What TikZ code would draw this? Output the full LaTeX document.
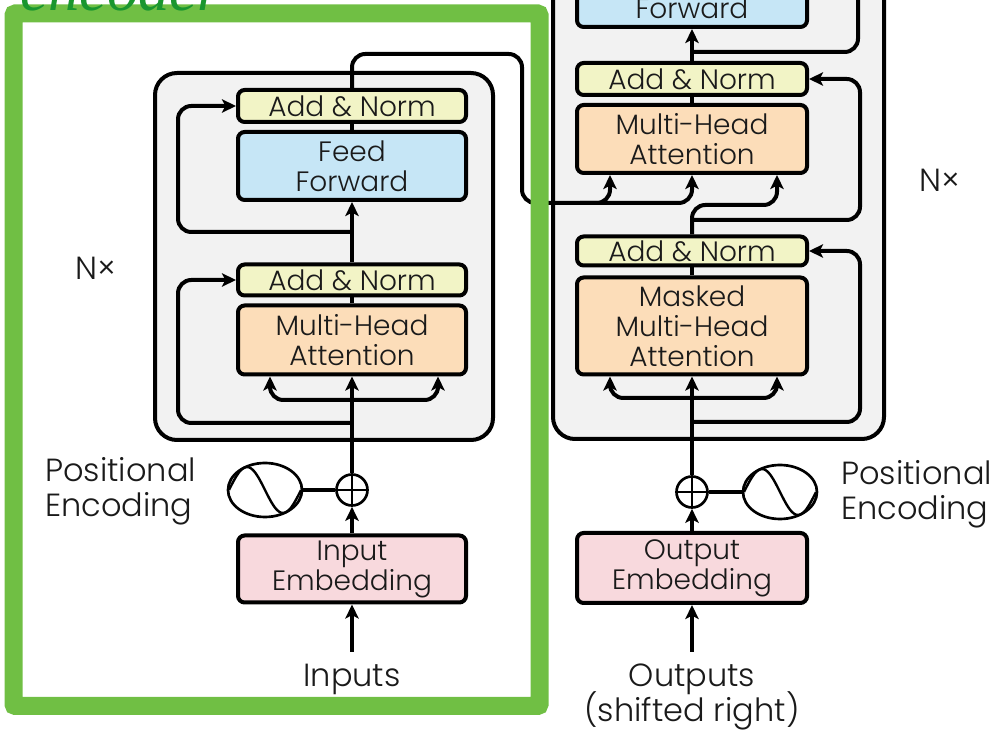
\documentclass[tikz,border=0pt]{standalone}
\usepackage{fontspec}
\IfFontExistsTF{Poppins Light}{\setmainfont{Poppins Light}}{\setmainfont{Poppins}}
\newfontfamily\titlefont{Liberation Serif}
\usetikzlibrary{arrows.meta,calc,shapes.geometric}
\definecolor{blockgray}{HTML}{F2F2F2}
\definecolor{annorm}{HTML}{F2F4C6}
\definecolor{ffblue}{HTML}{C6E6F6}
\definecolor{mhaorange}{HTML}{FCDDB9}
\definecolor{embpink}{HTML}{F8D9DD}
\definecolor{framegreen}{HTML}{70BF44}
\definecolor{titlegreen}{HTML}{1A962F}
\definecolor{ink}{HTML}{1A1A1A}
\newcommand{\boxfont}{\fontsize{21}{22.5}\selectfont}
\newcommand{\lblfont}{\fontsize{24}{26.25}\selectfont}
\begin{document}
\begin{tikzpicture}[x=0.75pt,y=-0.75pt,
  txt/.style={inner sep=0pt, text=ink},
  block/.style={draw=black, line width=3pt, fill=blockgray, rounded corners=16.5pt},
  box/.style={draw=black, line width=3pt, rounded corners=5pt, align=center, font=\boxfont, text=ink, inner sep=0pt, minimum width=228*0.75pt},
  anbox/.style={box, fill=annorm},
  ffbox/.style={box, fill=ffblue},
  mhabox/.style={box, fill=mhaorange},
  embbox/.style={box, fill=embpink},
  conn/.style={draw=black, line width=3pt, rounded corners=10pt},
  arr/.style={conn, -{Stealth[length=10.5pt, width=10pt, inset=2.5pt]}},
  pe/.style={draw=black, line width=2pt, ellipse, minimum width=74*0.75pt, minimum height=54*0.75pt, inner sep=0pt},
  plusc/.style={draw=black, line width=2pt, circle, minimum size=31*0.75pt, inner sep=0pt},
]
\useasboundingbox (0,0) rectangle (1004,730);
\begin{scope}
\clip (0,0) rectangle (1004,730);
% ---------- blocks ----------
\node[block, minimum width=338*0.75pt, minimum height=367*0.75pt] (encblock) at (324,256.5) {};
\node[block, minimum width=331*0.75pt, minimum height=479*0.75pt] (decblock) at (718.5,199.5) {};

% ---------- encoder boxes ----------
\node[anbox, minimum height=32*0.75pt] (encAN2) at (352,106) {Add \& Norm};
\node[ffbox, minimum height=68*0.75pt] (encFF) at (352,166) {Feed\\Forward};
\node[anbox, minimum height=31*0.75pt] (encAN1) at (352,280) {Add \& Norm};
\node[mhabox, minimum height=69*0.75pt] (encMHA) at (352,340) {Multi-Head\\Attention};
\node[embbox, minimum height=67*0.75pt] (encEmb) at (352,569) {Input\\Embedding};
\node[plusc] (encplus) at (352,490) {};
\node[pe] (encPE) at (265,490) {};
\node[txt, font=\lblfont] (inputs) at (352,679) {Inputs};
\node[txt, font=\lblfont, align=left, anchor=west] (encPEtext) at (45,491) {Positional\\Encoding};
\node[txt, font=\lblfont] (encN) at (96,268) {N×};

% ---------- decoder boxes ----------
\node[ffbox, minimum width=230*0.75pt, minimum height=68*0.75pt] (decFF) at (692,-7) {Feed\\Forward};
\node[anbox, minimum width=230*0.75pt, minimum height=32*0.75pt] (decAN2) at (692,79) {Add \& Norm};
\node[mhabox, minimum width=230*0.75pt, minimum height=68*0.75pt] (decMHA) at (692,139) {Multi-Head\\Attention};
\node[anbox, minimum width=230*0.75pt, minimum height=29*0.75pt] (decAN1) at (692,251) {Add \& Norm};
\node[mhabox, minimum width=230*0.75pt, minimum height=97*0.75pt] (decMMHA) at (692,326) {Masked\\Multi-Head\\Attention};
\node[embbox, minimum width=230*0.75pt, minimum height=70*0.75pt] (decEmb) at (692,568) {Output\\Embedding};
\node[plusc] (decplus) at (692,492) {};
\node[pe] (decPE) at (780,492) {};
\node[txt, font=\lblfont] (outputs) at (692,679) {Outputs};
\node[txt, font=\lblfont] (shifted) at (692,711) {(shifted right)};
\node[txt, font=\lblfont, align=left, anchor=west] (decPEtext) at (841,494) {Positional\\Encoding};
\node[txt, font=\lblfont] (decN) at (940,180) {N×};

% ---------- plus signs and sine waves ----------
\foreach \p in {encplus,decplus}{
  \draw[line width=1.8pt] (\p.north) -- (\p.south) (\p.west) -- (\p.east);
}
\draw[line width=1.8pt] plot[domain=-1:1, samples=50] ({265+36*\x},{490+23*sin(180*\x)});
\draw[line width=1.8pt] plot[domain=-1:1, samples=50] ({780+36*\x},{492+23*sin(180*\x)});
\draw[line width=2.5pt] (encPE.east) -- (encplus.west);
\draw[line width=2.5pt] (decplus.east) -- (decPE.west);

% ---------- encoder connectors ----------
\coordinate (inA) at (352,652);
\coordinate (encfork) at (352,400);
\coordinate (encres1) at (352,423);
\coordinate (encres2) at (352,232);
\draw[arr] (inA) -- (encEmb.south);
\draw[arr] (encEmb.north) -- (encplus.south);
\draw[arr] (encplus.north) -- (encMHA.south);
\draw[arr] (encfork) -| ($(encMHA.south)+(-82,0)$);
\draw[arr] (encfork) -| ($(encMHA.south)+(86,0)$);
\draw[arr] (encres1) -| ($(encAN1.west)+(-58,0)$) -- (encAN1.west);
\draw[conn] (encMHA.north) -- (encAN1.south);
\draw[arr] (encAN1.north) -- (encFF.south);
\draw[arr] (encres2) -| ($(encAN2.west)+(-58,0)$) -- (encAN2.west);
\draw[conn] (encFF.north) -- (encAN2.south);

% encoder output to decoder
\coordinate (eoTop) at (522,54);
\coordinate (eoBend) at (522,203);
\coordinate (eoMid) at (580,203);
\draw[arr] (encAN2.north) |- (eoTop) -- (eoBend) -| ($(decMHA.south)+(-82,0)$);
\draw[arr] (eoMid) -| (decMHA.south);

% ---------- decoder connectors ----------
\coordinate (outA) at (692,652);
\coordinate (decfork) at (692,398);
\coordinate (decres1) at (692,422);
\coordinate (decres2) at (692,220);
\coordinate (decres3) at (692,52);
\coordinate (decres3top) at (858,-40);
\draw[arr] (outA) -- (decEmb.south);
\draw[arr] (decEmb.north) -- (decplus.south);
\draw[arr] (decplus.north) -- (decMMHA.south);
\draw[arr] (decfork) -| ($(decMMHA.south)+(-82,0)$);
\draw[arr] (decfork) -| ($(decMMHA.south)+(85,0)$);
\draw[arr] (decres1) -| ($(decAN1.east)+(51,0)$) -- (decAN1.east);
\draw[conn] (decMMHA.north) -- (decAN1.south);
\draw[arr] (decAN1.north) |- ($(decMHA.south)+(45,30)$) -| ($(decMHA.south)+(85,0)$);
\draw[arr] (decres2) -| ($(decAN2.east)+(51,0)$) -- (decAN2.east);
\draw[conn] (decMHA.north) -- (decAN2.south);
\draw[arr] (decAN2.north) -- (decFF.south);
\draw[conn] (decres3) -| (decres3top);

% ---------- green frame and title ----------
\draw[framegreen, line width=13.5pt, rounded corners=1.5pt] (13.5,13.5) rectangle (539.5,706);
\node[inner sep=0pt, anchor=base west, text=titlegreen, font=\titlefont\itshape\fontsize{47}{50}\selectfont] (title) at (20,11) {encoder};
\end{scope}
\end{tikzpicture}
\end{document}
